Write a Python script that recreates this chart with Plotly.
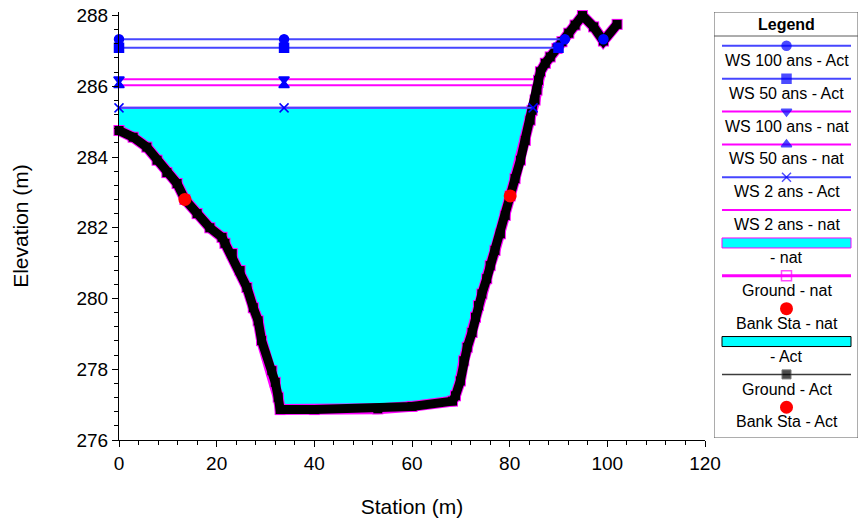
import plotly.graph_objects as go

# Cross-section ground profile (station, elevation)
station = [0.0, 2.9, 5.7, 7.8, 9.8, 11.9, 13.5, 16.0, 18.6, 21.1, 21.7, 23.2, 24.8,
           26.2, 27.5, 28.5, 29.2, 31.3, 32.0, 32.6, 33.0, 40.0, 53.0, 60.0, 68.3,
           68.9, 69.9, 70.6, 71.3, 72.3, 73.0, 73.6, 74.3, 75.3, 76.0, 77.0, 78.1,
           79.1, 80.1, 81.1, 82.2, 83.2, 84.2, 84.6, 85.2, 85.6, 85.9, 86.3, 87.3,
           88.3, 89.7, 90.7, 92.1, 93.4, 94.9, 97.2, 99.2, 102.0]
elevation = [284.75, 284.56, 284.28, 283.91, 283.56, 283.25, 282.80, 282.40, 282.00,
             281.73, 281.56, 281.27, 280.79, 280.31, 279.74, 279.37, 278.81, 277.96,
             277.63, 277.21, 276.86, 276.86, 276.88, 276.95, 277.10, 277.25, 277.67,
             278.24, 278.62, 279.04, 279.47, 279.80, 280.13, 280.56, 280.93, 281.36,
             281.83, 282.35, 282.90, 283.39, 283.91, 284.47, 285.04, 285.32, 285.61,
             285.89, 286.17, 286.41, 286.65, 286.83, 287.07, 287.26, 287.50, 287.73,
             288.00, 287.68, 287.28, 287.75]

# Bank stations
bank_station = [13.5, 80.1]
bank_elevation = [282.80, 282.90]

# Water surface profiles
ws_names = ["WS 100 ans - Act", "WS 50 ans - Act", "WS 100 ans - nat",
            "WS 50 ans - nat", "WS 2 ans - Act", "WS 2 ans - nat"]
ws_elev = [287.33, 287.09, 286.20, 286.03, 285.39, 285.39]
ws_mid_station = [33.8, 33.8, 33.8, 33.8, 33.8, 33.8]
ws_right_station = [91.3, 90.0, 85.95, 85.75, 84.8, 84.8]
ws100_pocket_station = 99.2

BLUE_LINE = "rgb(70,70,255)"
BLUE = "rgb(0,0,255)"
MAGENTA = "rgb(255,0,255)"
CYAN = "rgb(0,255,255)"
RED = "rgb(255,0,0)"
FONT = "Liberation Sans, Arial, sans-serif"

ws_style = {
    "WS 100 ans - Act": dict(color=BLUE_LINE, mcolor=BLUE, symbol="circle", size=9),
    "WS 50 ans - Act": dict(color=BLUE_LINE, mcolor=BLUE, symbol="square", size=9),
    "WS 100 ans - nat": dict(color=MAGENTA, mcolor=BLUE, symbol="triangle-down", size=9),
    "WS 50 ans - nat": dict(color=MAGENTA, mcolor=BLUE, symbol="triangle-up", size=9),
    "WS 2 ans - Act": dict(color=BLUE_LINE, mcolor=BLUE, symbol="x-thin", size=9),
    "WS 2 ans - nat": dict(color=MAGENTA, mcolor=MAGENTA, symbol="line-ew", size=1),
}

fig = go.Figure()


def water_polygon(ws, right):
    xs = [0.0]
    ys = [ws]
    for s, e in zip(station, elevation):
        if s < right and e < ws:
            xs.append(s)
            ys.append(e)
    xs.append(right)
    ys.append(ws)
    xs.append(0.0)
    ys.append(ws)
    return xs, ys


# Water area fills (2-year profile)
for name, edge in [("WS 2 ans - nat", MAGENTA), ("WS 2 ans - Act", "black")]:
    i = ws_names.index(name)
    px, py = water_polygon(ws_elev[i], ws_right_station[i])
    fig.add_trace(go.Scatter(x=px, y=py, mode="lines", fill="toself",
                             fillcolor=CYAN, line=dict(color=CYAN, width=0),
                             hoverinfo="skip", showlegend=False))


def ws_trace(i):
    name = ws_names[i]
    st = ws_style[name]
    xs = [0.0, ws_mid_station[i], ws_right_station[i]]
    ys = [ws_elev[i]] * 3
    if name == "WS 100 ans - Act":
        xs += [None, ws100_pocket_station]
        ys += [None, ws_elev[i]]
    marker = dict(symbol=st["symbol"], size=st["size"], color=st["mcolor"],
                  line=dict(color=st["mcolor"], width=1.5))
    return go.Scatter(x=xs, y=ys, mode="lines+markers", name=name,
                      line=dict(color=st["color"], width=2), marker=marker,
                      showlegend=False, cliponaxis=False)


# natural-condition water surfaces go under the ground line
for i, n in enumerate(ws_names):
    if n.endswith("nat"):
        fig.add_trace(ws_trace(i))

# Ground - nat
fig.add_trace(go.Scatter(x=station, y=elevation, mode="lines+markers",
                         line=dict(color=MAGENTA, width=11),
                         marker=dict(symbol="square", size=11, color=MAGENTA),
                         showlegend=False, cliponaxis=False))
# Ground - Act
fig.add_trace(go.Scatter(x=station, y=elevation, mode="lines+markers",
                         line=dict(color="black", width=9),
                         marker=dict(symbol="square", size=9, color="black"),
                         showlegend=False, cliponaxis=False))

# project water surfaces on top
for i, n in enumerate(ws_names):
    if n.endswith("Act"):
        fig.add_trace(ws_trace(i))

# Bank stations
fig.add_trace(go.Scatter(x=bank_station, y=bank_elevation, mode="markers",
                         marker=dict(symbol="circle", size=13, color=RED),
                         showlegend=False))

# ---- Legend panel (drawn in its own pixel-scaled axes) ----
LX0, LX1, LY0, LY1 = 714, 858, 12, 438
SX0, SX1 = 722, 851
CX = (SX0 + SX1) / 2
ROW0, STEP, TXT = 45.8, 32.86, 14.6

legend_items = [
    ("WS 100 ans - Act", "ws"), ("WS 50 ans - Act", "ws"),
    ("WS 100 ans - nat", "ws"), ("WS 50 ans - nat", "ws"),
    ("WS 2 ans - Act", "ws"), ("WS 2 ans - nat", "ws"),
    ("- nat", "fill_nat"), ("Ground - nat", "ground_nat"),
    ("Bank Sta - nat", "bank"), ("- Act", "fill_act"),
    ("Ground - Act", "ground_act"), ("Bank Sta - Act", "bank"),
]

shapes = [dict(type="rect", xref="x2", yref="y2", x0=LX0, x1=LX1, y0=LY0, y1=LY1,
               line=dict(color="rgb(90,90,90)", width=1), fillcolor="white", layer="below"),
          dict(type="line", xref="x2", yref="y2", x0=LX0, x1=LX1, y0=36, y1=36,
               line=dict(color="rgb(90,90,90)", width=1))]
annotations = [dict(x=CX, y=24, xref="x2", yref="y2", text="<b>Legend</b>",
                    showarrow=False, font=dict(family=FONT, size=16, color="black"))]

for k, (label, kind) in enumerate(legend_items):
    ys = ROW0 + STEP * k
    annotations.append(dict(x=CX, y=ys + TXT, xref="x2", yref="y2", text=label,
                            showarrow=False, font=dict(family=FONT, size=16, color="black")))
    if kind == "ws":
        st = ws_style[label]
        fig.add_trace(go.Scatter(x=[SX0, CX, SX1], y=[ys] * 3, xaxis="x2", yaxis="y2",
                                 mode="lines+markers", line=dict(color=st["color"], width=2),
                                 marker=dict(symbol=st["symbol"], color=st["mcolor"],
                                             size=[0, st["size"], 0],
                                             line=dict(color=st["mcolor"], width=1.5)),
                                 showlegend=False, hoverinfo="skip", cliponaxis=False))
    elif kind in ("fill_nat", "fill_act"):
        shapes.append(dict(type="rect", xref="x2", yref="y2", x0=SX0, x1=SX1,
                           y0=ys - 5, y1=ys + 5, fillcolor=CYAN,
                           line=dict(color=MAGENTA if kind == "fill_nat" else "black", width=1)))
    elif kind == "ground_nat":
        fig.add_trace(go.Scatter(x=[SX0, CX, SX1], y=[ys] * 3, xaxis="x2", yaxis="y2",
                                 mode="lines+markers", line=dict(color=MAGENTA, width=3),
                                 marker=dict(symbol="square-open", color=MAGENTA,
                                             size=[0, 10, 0], line=dict(width=1.5)),
                                 showlegend=False, hoverinfo="skip", cliponaxis=False))
    elif kind == "ground_act":
        fig.add_trace(go.Scatter(x=[SX0, CX, SX1], y=[ys] * 3, xaxis="x2", yaxis="y2",
                                 mode="lines+markers", line=dict(color="rgb(60,60,60)", width=1.5),
                                 marker=dict(symbol="square", color="black", size=[0, 9, 0]),
                                 showlegend=False, hoverinfo="skip", cliponaxis=False))
    elif kind == "bank":
        fig.add_trace(go.Scatter(x=[CX], y=[ys], xaxis="x2", yaxis="y2", mode="markers",
                                 marker=dict(symbol="circle", color=RED, size=13),
                                 showlegend=False, hoverinfo="skip", cliponaxis=False))

W, H = 861, 521
ML, MR, MT, MB = 119, 2, 12, 81
pw, ph = W - ML - MR, H - MT - MB
x_end_px = 705

axis_common = dict(showline=True, linecolor="black", linewidth=1, ticks="outside",
                   ticklen=6, tickwidth=1, tickcolor="black", showgrid=False,
                   zeroline=False, automargin=False,
                   tickfont=dict(family=FONT, size=19, color="black"))

fig.update_layout(
    width=W, height=H, margin=dict(l=ML, r=MR, t=MT, b=MB),
    paper_bgcolor="white", plot_bgcolor="white", showlegend=False,
    xaxis=dict(domain=[0, (x_end_px - ML) / pw], range=[0, 120], dtick=20,
               minor=dict(dtick=4, ticks="outside", ticklen=4, tickcolor="black"),
               title=dict(text="Station (m)", standoff=26,
                          font=dict(family=FONT, size=21, color="black")),
               anchor="y", **axis_common),
    yaxis=dict(domain=[0, 1], range=[276, 288.1], dtick=2, tick0=276,
               minor=dict(dtick=0.4, ticks="outside", ticklen=4, tickcolor="black"),
               title=dict(text="Elevation (m)", standoff=42,
                          font=dict(family=FONT, size=21, color="black")),
               anchor="x", **axis_common),
    xaxis2=dict(domain=[(LX0 - ML) / pw, (LX1 - ML) / pw], range=[LX0, LX1],
                visible=False, anchor="y2", fixedrange=True),
    yaxis2=dict(domain=[(H - MB - LY1) / ph, 1], range=[LY1, LY0],
                visible=False, anchor="x2", fixedrange=True),
    shapes=shapes, annotations=annotations,
)

fig.write_html("out.html")
